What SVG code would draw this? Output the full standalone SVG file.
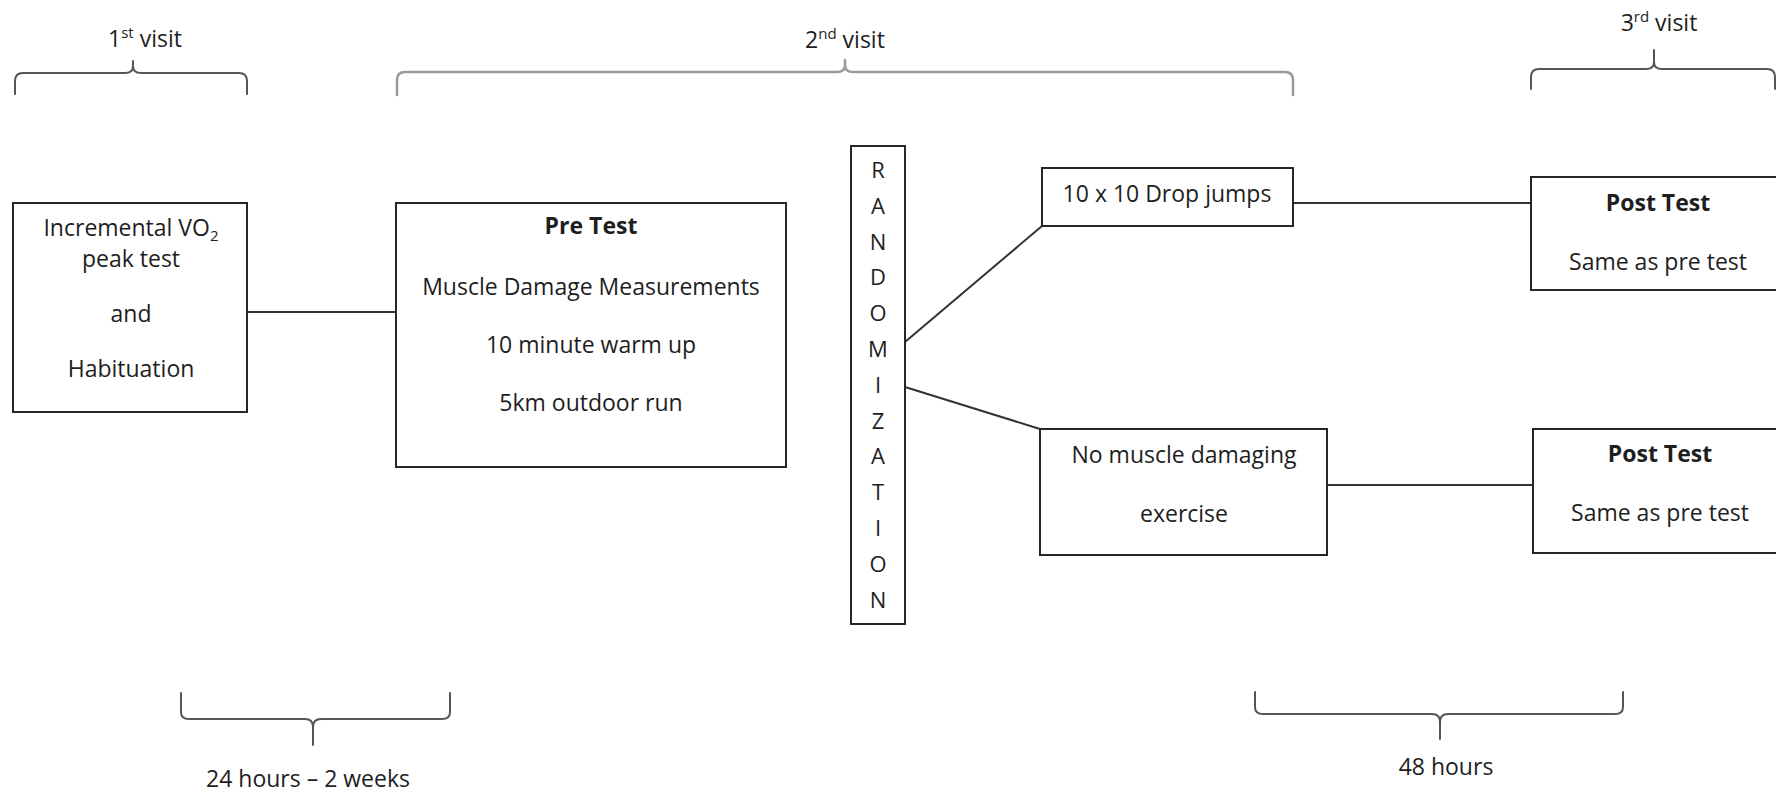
<svg xmlns="http://www.w3.org/2000/svg" width="1776" height="796" viewBox="0 0 1776 796">
<style>
text{font-family:"Open Sans","Liberation Sans",sans-serif;font-size:23px;fill:#1e1e1e;text-anchor:middle}
.b{font-weight:bold}
.box{fill:#fff;stroke:#262626;stroke-width:2}
.con{stroke:#333;stroke-width:2;fill:none}
.br{fill:none;stroke:#555;stroke-width:2;stroke-linecap:round;stroke-linejoin:round}
.br2{fill:none;stroke:#9a9a9a;stroke-width:2.5;stroke-linecap:round;stroke-linejoin:round}
.rl{font-size:22px}
</style>
<rect width="1776" height="796" fill="#fff"/>
<g id="braces">
<path class="br" d="M15,94 L15,81 Q15,73 23,73 L125,73 Q133,73 133,66 L133,61 M133,66 Q133,73 141,73 L239,73 Q247,73 247,81 L247,94"/>
<path class="br2" d="M397,95 L397,80 Q397,72 405,72 L837,72 Q845,72 845,65 L845,60 M845,65 Q845,72 853,72 L1285,72 Q1293,72 1293,80 L1293,95"/>
<path class="br" d="M1531,89 L1531,77 Q1531,69 1539,69 L1646,69 Q1654,69 1654,62 L1654,50 M1654,62 Q1654,69 1662,69 L1767,69 Q1775,69 1775,77 L1775,89"/>
<path class="br" d="M181,693 L181,712 Q181,719 189,719 L305,719 Q313,719 313,727 L313,745 M313,727 Q313,719 321,719 L442,719 Q450,719 450,712 L450,693"/>
<path class="br" d="M1255,692 L1255,707 Q1255,714 1263,714 L1432,714 Q1440,714 1440,722 L1440,739 M1440,722 Q1440,714 1448,714 L1615,714 Q1623,714 1623,707 L1623,692"/>
</g>
<g id="labels">
<text x="145" y="47">1<tspan font-size="15" dy="-9">st</tspan><tspan dy="9"> visit</tspan></text>
<text x="845" y="48">2<tspan font-size="15" dy="-9">nd</tspan><tspan dy="9"> visit</tspan></text>
<text x="1659" y="31">3<tspan font-size="15" dy="-9">rd</tspan><tspan dy="9"> visit</tspan></text>
<text x="308" y="787">24 hours – 2 weeks</text>
<text x="1446" y="775">48 hours</text>
</g>
<g id="connectors">
<line class="con" x1="247" y1="312" x2="396" y2="312"/>
<line class="con" x1="905" y1="342" x2="1042" y2="226"/>
<line class="con" x1="905" y1="387" x2="1040" y2="429"/>
<line class="con" x1="1293" y1="203" x2="1531" y2="203"/>
<line class="con" x1="1327" y1="485" x2="1533" y2="485"/>
</g>
<g id="vo2">
<rect class="box" x="13" y="203" width="234" height="209"/>
<text x="131" y="236">Incremental VO<tspan font-size="15" dy="5">2</tspan></text>
<text x="131" y="267">peak test</text>
<text x="131" y="322">and</text>
<text x="131" y="377">Habituation</text>
</g>
<g id="pretest">
<rect class="box" x="396" y="203" width="390" height="264"/>
<text class="b" x="591" y="234">Pre Test</text>
<text x="591" y="295">Muscle Damage Measurements</text>
<text x="591" y="353">10 minute warm up</text>
<text x="591" y="411">5km outdoor run</text>
</g>
<g id="randomization">
<rect class="box" x="851" y="146" width="54" height="478"/>
<text class="rl" x="878" y="178">R</text>
<text class="rl" x="878" y="214">A</text>
<text class="rl" x="878" y="250">N</text>
<text class="rl" x="878" y="285">D</text>
<text class="rl" x="878" y="321">O</text>
<text class="rl" x="878" y="357">M</text>
<text class="rl" x="878" y="393">I</text>
<text class="rl" x="878" y="429">Z</text>
<text class="rl" x="878" y="464">A</text>
<text class="rl" x="878" y="500">T</text>
<text class="rl" x="878" y="536">I</text>
<text class="rl" x="878" y="572">O</text>
<text class="rl" x="878" y="608">N</text>
</g>
<g id="dropjumps">
<rect class="box" x="1042" y="168" width="251" height="58"/>
<text x="1167" y="202">10 x 10 Drop jumps</text>
</g>
<g id="nodamage">
<rect class="box" x="1040" y="429" width="287" height="126"/>
<text x="1184" y="463">No muscle damaging</text>
<text x="1184" y="522">exercise</text>
</g>
<g id="posttest1">
<rect class="box" x="1531" y="177" width="260" height="113"/>
<text class="b" x="1658" y="211">Post Test</text>
<text x="1658" y="270">Same as pre test</text>
</g>
<g id="posttest2">
<rect class="box" x="1533" y="429" width="260" height="124"/>
<text class="b" x="1660" y="462">Post Test</text>
<text x="1660" y="521">Same as pre test</text>
</g>
</svg>
